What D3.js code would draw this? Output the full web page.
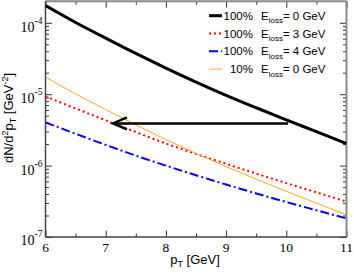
<!DOCTYPE html>
<html><head><meta charset="utf-8">
<script src="https://cdn.jsdelivr.net/npm/d3@7"></script>
<style>body{margin:0;background:#fff}svg{display:block}</style>
</head><body><svg id="c" width="354" height="273"></svg>
<script>
const pT = [6, 6.5, 7, 7.5, 8, 8.5, 9, 9.5, 10, 10.5, 11];
const full0 = [1.74e-4, 1.01e-4, 6.10e-5, 3.72e-5, 2.32e-5, 1.48e-5, 9.66e-6, 6.46e-6, 4.37e-6, 2.99e-6, 2.04e-6];
const full3 = [9.33e-6, 6.31e-6, 4.31e-6, 2.95e-6, 2.04e-6, 1.46e-6, 1.06e-6, 7.73e-7, 5.69e-7, 4.22e-7, 3.13e-7];
const full4 = [4.03e-6, 2.79e-6, 1.95e-6, 1.38e-6, 1.0e-6, 7.33e-7, 5.43e-7, 4.07e-7, 3.09e-7, 2.37e-7, 1.82e-7];
const ten0 = [1.74e-5, 1.01e-5, 6.10e-6, 3.72e-6, 2.32e-6, 1.48e-6, 9.66e-7, 6.46e-7, 4.37e-7, 2.99e-7, 2.04e-7];
const xTicks = [6, 7, 8, 9, 10, 11];
const yDecades = [-7, -6, -5, -4];
const arrowFrom = [10.03, 3.9e-6];
const arrowTo = [7.12, 3.9e-6];
const legendPct = ["100%", "100%", "100%", "10%"];
const legendLoss = ["= 0 GeV", "= 3 GeV", "= 4 GeV", "= 0 GeV"];

const series = [
  {v: full0, color: "#000", w: 3, dash: null},
  {v: full3, color: "#ff0000", w: 2, dash: "2,3"},
  {v: full4, color: "#0000ff", w: 2, dash: "9,3,2,3"},
  {v: ten0, color: "#ffa520", w: 1, dash: null}
];

const svg = d3.select("#c");
const L = 45.5, R = 346.5, T = 1.3, B = 237;
const x = d3.scaleLinear().domain([6, 11]).range([L, R]);
const y = d3.scaleLog().domain([1e-7, 2e-4]).range([B, T]);

const xMinor = d3.range(6.5, 11, 1);
const yMinor = [];
for (let e = -7; e <= -4; e++) for (let m = 2; m <= 9; m++) { const v = m * Math.pow(10, e); if (v < 2e-4) yMinor.push(v); }

function axisG(gen, tr) {
  const g = svg.append("g").attr("transform", tr).call(gen);
  g.select(".domain").remove();
  g.selectAll("text").remove();
  g.selectAll("line").attr("stroke", "#333").attr("stroke-width", 1);
  return g;
}
axisG(d3.axisBottom(x).tickValues(xTicks).tickSize(-6.5), `translate(0,${B})`);
axisG(d3.axisBottom(x).tickValues(xMinor).tickSize(-3.5), `translate(0,${B})`);
axisG(d3.axisTop(x).tickValues(xTicks).tickSize(-6.5), `translate(0,${T})`);
axisG(d3.axisTop(x).tickValues(xMinor).tickSize(-3.5), `translate(0,${T})`);
const yMaj = yDecades.map(e => Math.pow(10, e));
axisG(d3.axisLeft(y).tickValues(yMaj).tickSize(-6.5), `translate(${L},0)`);
axisG(d3.axisLeft(y).tickValues(yMinor).tickSize(-3.5), `translate(${L},0)`);
axisG(d3.axisRight(y).tickValues(yMaj).tickSize(-6.5), `translate(${R},0)`);
axisG(d3.axisRight(y).tickValues(yMinor).tickSize(-3.5), `translate(${R},0)`);

svg.append("line").attr("x1", L).attr("x2", R).attr("y1", T).attr("y2", T).attr("stroke", "#888").attr("stroke-width", 2);
svg.append("line").attr("x1", R).attr("x2", R).attr("y1", T).attr("y2", B).attr("stroke", "#888").attr("stroke-width", 2);
svg.append("line").attr("x1", L).attr("x2", R).attr("y1", B).attr("y2", B).attr("stroke", "#444").attr("stroke-width", 1.5);
svg.append("line").attr("x1", L).attr("x2", L).attr("y1", T).attr("y2", B).attr("stroke", "#444").attr("stroke-width", 1.5);

svg.append("g").selectAll("text").data(xTicks).join("text")
  .attr("x", d => x(d)).attr("y", B + 15).attr("text-anchor", "middle")
  .attr("font-family", "Liberation Serif, Times New Roman, serif").attr("font-size", 13.5)
  .text(d => d);
const yl = svg.append("g").selectAll("text").data(yDecades).join("text")
  .attr("x", 20.5).attr("y", d => y(Math.pow(10, d)) + (d === -7 ? 8 : 9.3))
  .attr("font-family", "Liberation Serif, Times New Roman, serif").attr("font-size", 14);
yl.append("tspan").text("10");
yl.append("tspan").attr("dy", -8).attr("font-size", 9.5).text(d => "-" + (-d));

const xt = svg.append("text").attr("x", 195).attr("y", 264).attr("text-anchor", "middle")
  .attr("font-family", "Liberation Sans, Arial, sans-serif").attr("font-size", 13);
xt.append("tspan").text("p");
xt.append("tspan").attr("dy", 3).attr("font-size", 9).text("T");
xt.append("tspan").attr("dy", -3).text(" [GeV]");

const ytt = svg.append("text").attr("transform", "translate(13,118) rotate(-90)").attr("text-anchor", "middle")
  .attr("font-family", "Liberation Sans, Arial, sans-serif").attr("font-size", 13);
ytt.append("tspan").text("dN/d");
ytt.append("tspan").attr("dy", -5).attr("font-size", 9).text("2");
ytt.append("tspan").attr("dy", 5).text("p");
ytt.append("tspan").attr("dy", 3).attr("font-size", 9).text("T");
ytt.append("tspan").attr("dy", -3).text(" [GeV");
ytt.append("tspan").attr("dy", -5).attr("font-size", 9).text("-2");
ytt.append("tspan").attr("dy", 5).text("]");

svg.append("clipPath").attr("id", "pc").append("rect").attr("x", L).attr("y", T).attr("width", R - L).attr("height", B - T);
const line = d3.line().x((d, i) => x(pT[i])).y(d => y(d)).curve(d3.curveMonotoneX);
series.forEach(s => {
  svg.append("path").attr("clip-path", "url(#pc)").attr("d", line(s.v)).attr("fill", "none")
    .attr("stroke", s.color).attr("stroke-width", s.w).attr("stroke-dasharray", s.dash);
});

const ax0 = x(arrowFrom[0]), ay = y(arrowFrom[1]), ax1 = x(arrowTo[0]);
svg.append("line").attr("x1", ax0).attr("x2", ax1 + 1).attr("y1", ay).attr("y2", ay).attr("stroke", "#000").attr("stroke-width", 2.5);
svg.append("path").attr("d", `M${ax1 + 14},${ay - 6}L${ax1},${ay}L${ax1 + 14},${ay + 6}`)
  .attr("fill", "none").attr("stroke", "#000").attr("stroke-width", 2.5);

const lg = svg.append("g").attr("font-family", "Liberation Sans, Arial, sans-serif").attr("font-size", 11.5);
series.forEach((s, i) => {
  const yy = 15.7 + i * 17.8;
  lg.append("line").attr("x1", 209).attr("x2", 222).attr("y1", yy).attr("y2", yy)
    .attr("stroke", s.color).attr("stroke-width", s.w).attr("stroke-dasharray", s.dash);
  lg.append("text").attr("x", 253).attr("y", yy + 4).attr("text-anchor", "end").text(legendPct[i]);
  const t = lg.append("text").attr("x", 261).attr("y", yy + 4);
  t.append("tspan").text("E");
  t.append("tspan").attr("dy", 3.5).attr("font-size", 8).text("loss");
  t.append("tspan").attr("dy", -3.5).text(legendLoss[i]);
});
</script></body></html>
